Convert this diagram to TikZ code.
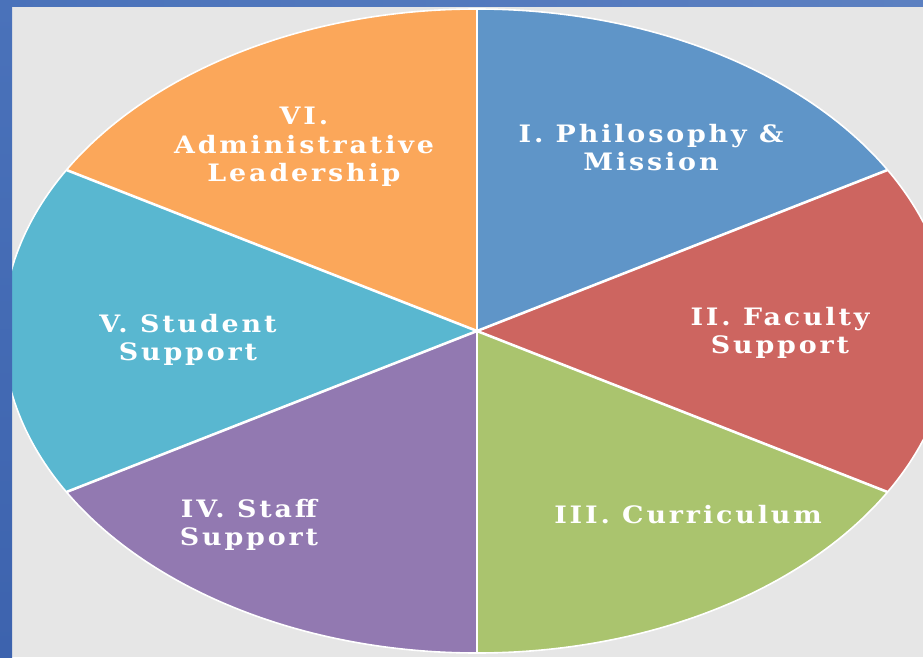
\documentclass[tikz,border=0pt]{standalone}
\usepackage{fontspec}
\usetikzlibrary{calc}
\newfontfamily\lblfont{DejaVu Serif}[FakeStretch=1.12, LetterSpace=12]
\begin{document}
\begin{tikzpicture}[x=1pt, y=1pt,
  lbl/.style={text=white, font=\lblfont\bfseries\fontsize{24}{28}\selectfont, inner sep=0pt, anchor=base},
  spoke/.style={draw=white, line width=2.6pt},
  rim/.style={draw=white, line width=1.6pt},
  pie/.style={x radius=474, y radius=322}]
\definecolor{bgray}{HTML}{E6E6E6}
\definecolor{frameA}{HTML}{4A72BA}
\definecolor{frameB}{HTML}{3D63AE}
\definecolor{cPhil}{HTML}{5F95C8}
\definecolor{cFac}{HTML}{CD6560}
\definecolor{cCur}{HTML}{AAC46E}
\definecolor{cStaff}{HTML}{9279B1}
\definecolor{cStud}{HTML}{59B7D0}
\definecolor{cAdm}{HTML}{FBA75A}
\useasboundingbox (0,0) rectangle (923,657);
% page background
\fill[bgray] (0,0) rectangle (923,657);
% pie centre
\coordinate (C) at (477,326);
% spoke ends on the rim
\foreach \a/\n in {30/s1, 90/s2, 150/s3, 210/s4, 270/s5, 330/s6}
  \coordinate (\n) at ($(C)+(\a:474 and 322)$);
% six equal sectors
\fill[cPhil]  (C) -- (s1) arc[pie, start angle=30,  end angle=90]  -- cycle;
\fill[cAdm]   (C) -- (s2) arc[pie, start angle=90,  end angle=150] -- cycle;
\fill[cStud]  (C) -- (s3) arc[pie, start angle=150, end angle=210] -- cycle;
\fill[cStaff] (C) -- (s4) arc[pie, start angle=210, end angle=270] -- cycle;
\fill[cCur]   (C) -- (s5) arc[pie, start angle=270, end angle=330] -- cycle;
\fill[cFac]   (C) -- (s6) arc[pie, start angle=330, end angle=390] -- cycle;
\foreach \n in {s1, s2, s3, s4, s5, s6}
  \draw[spoke] (C) -- (\n);
\draw[rim] (C) ellipse[pie];
% frame along the left and top edges
\shade[top color=frameA, bottom color=frameB] (0,0) rectangle (12,657);
\shade[left color=frameA, right color=frameA!90!white] (0,650) rectangle (923,657);
% sector labels
\node[lbl] (p1) at (651,514) {I. Philosophy \&};
\node[lbl] (p2) at (651,486) {Mission};
\node[lbl] (f1) at (780,332) {II. Faculty};
\node[lbl] (f2) at (780,304) {Support};
\node[lbl] (c1) at (688,134) {III. Curriculum};
\node[lbl] (t1) at (249,140) {IV. Staff};
\node[lbl] (t2) at (249,112) {Support};
\node[lbl] (u1) at (188,325) {V. Student};
\node[lbl] (u2) at (188,297) {Support};
\node[lbl] (a1) at (304,532) {VI.};
\node[lbl] (a2) at (304,503) {Administrative};
\node[lbl] (a3) at (304,475) {Leadership};
\end{tikzpicture}
\end{document}
